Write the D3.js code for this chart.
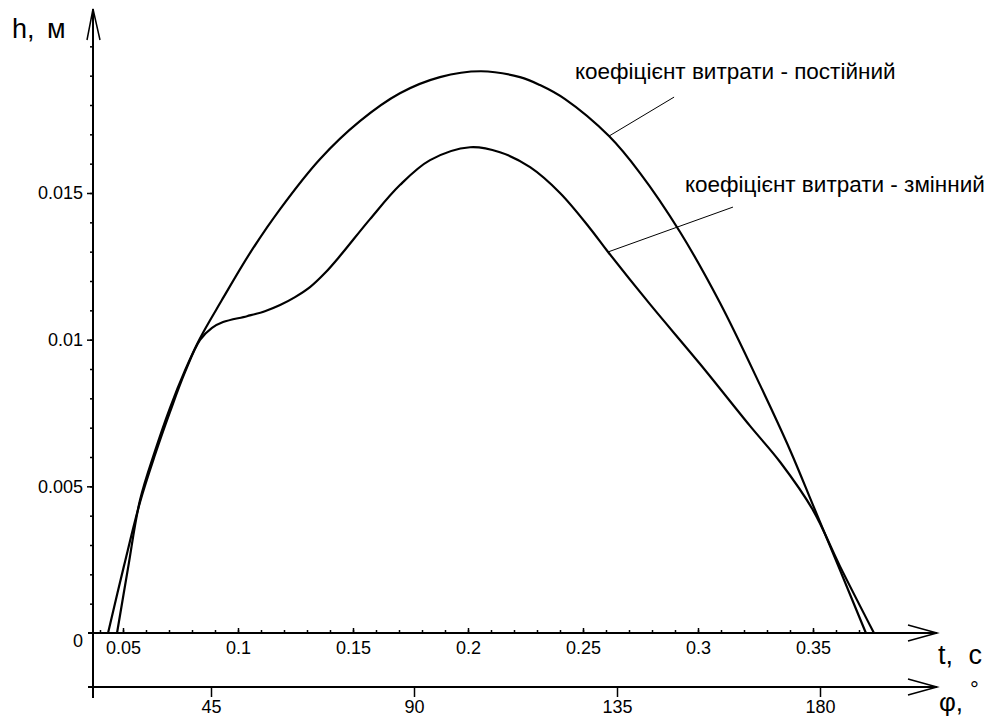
<!DOCTYPE html>
<html>
<head>
<meta charset="utf-8">
<script src="https://cdn.jsdelivr.net/npm/d3@7"></script>
<style>
  body { margin: 0; background: #fff; }
  svg { display: block; font-family: "Liberation Sans", Arial, sans-serif; }
  .tick text { font-size: 18px; fill: #000; }
  .domain { display: none; }
</style>
</head>
<body>
<svg id="chart" width="994" height="720"></svg>
<script>
// t, s  /  h, m
var tConst = [0.0474,0.0522,0.0574,0.0639,0.0704,0.0770,0.0835,0.0930,0.1052,0.1183,0.1357,0.1530,0.1704,0.1878,0.2057,0.2226,0.2313,0.2422,0.2613,0.2748,0.2922,0.3096,0.3270,0.3400,0.3500,0.3617,0.3730];
var hConst = [0,0.00222,0.00453,0.00620,0.00767,0.00896,0.01005,0.01135,0.01295,0.01445,0.01616,0.01745,0.01840,0.01895,0.01915,0.01895,0.01868,0.01820,0.01694,0.01568,0.01367,0.01125,0.00845,0.00624,0.00436,0.00215,0];

var tVar = [0.0435,0.0504,0.0574,0.0639,0.0704,0.0770,0.0835,0.0887,0.0935,0.1039,0.1117,0.1183,0.1248,0.1313,0.1378,0.1443,0.1574,0.1704,0.1835,0.2009,0.2139,0.2270,0.2400,0.2530,0.2609,0.2791,0.3009,0.3226,0.3357,0.3500,0.3617,0.3765];
var hVar = [0,0.00228,0.00446,0.00607,0.00753,0.00890,0.00999,0.01040,0.01060,0.01080,0.01097,0.01118,0.01145,0.01179,0.01227,0.01285,0.01411,0.01527,0.01612,0.01656,0.01639,0.01588,0.01500,0.01380,0.01299,0.01121,0.00917,0.00706,0.00583,0.00419,0.00228,0];

var tTicks = [0.05,0.1,0.15,0.2,0.25,0.3,0.35];
var tMinor = d3.range(4,38).map(function(d){ return d/100; });
var hTicks = [0.005,0.01,0.015];
var hMinor = d3.range(1,21).map(function(d){ return d/1000; });
var phiTicks = [45,90,135,180];

var labels = [
  {text:"коефіцієнт витрати - постійний", t:0.2465, h:0.01888, from:[0.2613,0.01694], to:[0.2896,0.01827]},
  {text:"коефіцієнт витрати - змінний", t:0.2943, h:0.01503, from:[0.2609,0.01299], to:[0.3152,0.01452]}
];

var svg = d3.select("#chart");
svg.append("rect").attr("width",994).attr("height",720).attr("fill","#fff");

var x = d3.scaleLinear().domain([0.05,0.35]).range([123,813]);
var y = d3.scaleLinear().domain([0,0.015]).range([633,193]);
var phi = d3.scaleLinear().domain([45,180]).range([211,820]);

var x0 = 93, yAxisTop = 9, tY = 633, phiY = 687, axisEnd = 937;

// axis lines
var g = svg.append("g").attr("stroke","#000").attr("stroke-width",2).attr("fill","none");
g.append("line").attr("x1",x0).attr("x2",x0).attr("y1",yAxisTop).attr("y2",698);
g.append("line").attr("x1",88).attr("x2",axisEnd).attr("y1",tY).attr("y2",tY);
g.append("line").attr("x1",88).attr("x2",axisEnd).attr("y1",phiY).attr("y2",phiY);

// open arrow heads
function arrowH(yy){
  g.append("path").attr("stroke-width",1.5)
    .attr("d","M"+(axisEnd-29)+","+(yy-8)+"L"+axisEnd+","+yy+"L"+(axisEnd-29)+","+(yy+8));
}
arrowH(tY); arrowH(phiY);
g.append("path").attr("stroke-width",1.5)
  .attr("d","M"+(x0-6)+",40L"+x0+","+yAxisTop+"L"+(x0+7)+",40");

// t axis
svg.append("g").attr("transform","translate(0,"+tY+")")
  .call(d3.axisBottom(x).tickValues(tMinor).tickSize(-3).tickFormat(""))
  .selectAll("line").attr("stroke-width",1.5);
svg.append("g").attr("transform","translate(0,"+tY+")")
  .call(d3.axisBottom(x).tickValues(tTicks).tickSize(-5).tickPadding(8).tickFormat(d3.format("")))
  .selectAll("line").attr("stroke-width",1.5);

// h axis
svg.append("g").attr("transform","translate("+x0+",0)")
  .call(d3.axisLeft(y).tickValues(hMinor).tickSize(3).tickFormat(""))
  .selectAll("line").attr("stroke-width",1.5);
svg.append("g").attr("transform","translate("+x0+",0)")
  .call(d3.axisLeft(y).tickValues(hTicks).tickSize(6).tickPadding(4).tickFormat(d3.format("")))
  .selectAll("line").attr("stroke-width",1.5);
svg.append("text").attr("x",83).attr("y",647).attr("text-anchor","end")
  .attr("font-size",18).text("0");

// phi axis
svg.append("g").attr("transform","translate(0,"+phiY+")")
  .call(d3.axisBottom(phi).tickValues(phiTicks).tickSize(10).tickPadding(3))
  .selectAll("line").attr("stroke-width",1.5);

// axis titles
svg.append("text").attr("x",12).attr("y",38).attr("font-size",27)
  .attr("word-spacing",5).text("h, м");
svg.append("text").attr("x",938).attr("y",664).attr("font-size",27)
  .attr("word-spacing",8).text("t, c");
var ph = svg.append("text").attr("x",939).attr("y",711).attr("font-size",26);
ph.append("tspan").text("φ,");
ph.append("tspan").attr("dx",7).attr("dy",-14).attr("font-size",22).text("°");

// curves
var line = d3.line()
  .x(function(d){ return x(d[0]); })
  .y(function(d){ return y(d[1]); })
  .curve(d3.curveCatmullRom.alpha(0.5));

[[tConst,hConst],[tVar,hVar]].forEach(function(s){
  var pts = s[0].map(function(t,i){ return [t, s[1][i]]; });
  svg.append("path").attr("d",line(pts))
    .attr("fill","none").attr("stroke","#000").attr("stroke-width",2.2);
});

// annotations
labels.forEach(function(l){
  svg.append("line")
    .attr("x1",x(l.from[0])).attr("y1",y(l.from[1]))
    .attr("x2",x(l.to[0])).attr("y2",y(l.to[1]))
    .attr("stroke","#000").attr("stroke-width",1);
  svg.append("text").attr("x",x(l.t)).attr("y",y(l.h))
    .attr("font-size",22.5).text(l.text);
});
</script>
</body>
</html>
